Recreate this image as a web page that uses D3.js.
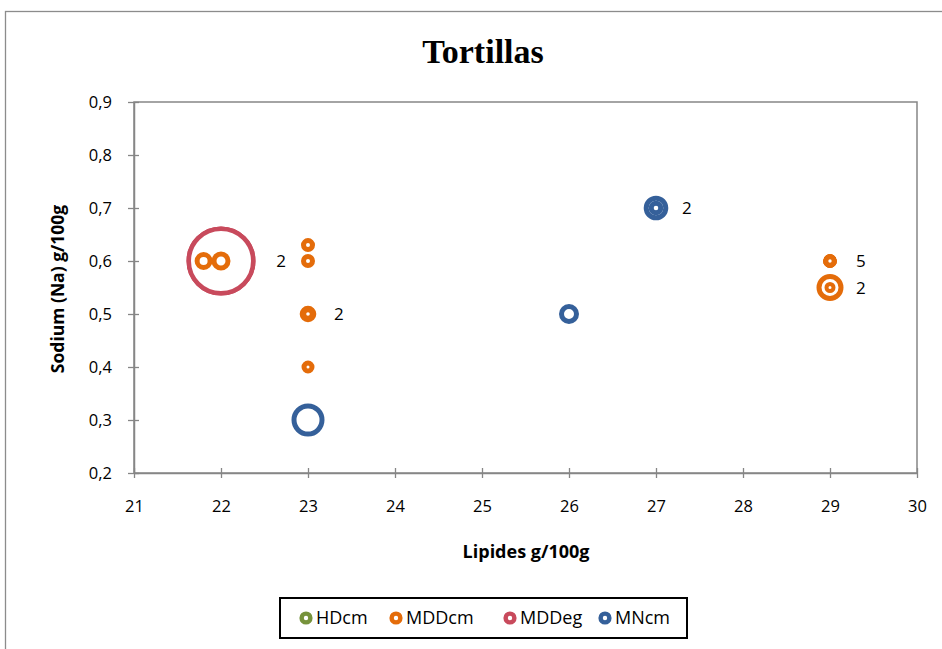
<!DOCTYPE html>
<html>
<head>
<meta charset="utf-8">
<script src="https://cdn.jsdelivr.net/npm/d3@7"></script>
<style>
  html, body { margin: 0; padding: 0; background: #fff; }
  svg { display: block; }
</style>
</head>
<body>
<svg id="chart" width="942" height="649"></svg>
<script>
// Tortillas: sodium vs. lipids, one marker per product, coincident products stacked.
const seriesNames = ["HDcm", "MDDcm", "MDDeg", "MNcm"];
const seriesColors = ["#77933C", "#E46C0A", "#C84A5C", "#35609A"];

// Lipides g/100g
const hdcmX = [];
const mddcmX = [21.8, 22, 23, 23, 23, 23, 23, 29, 29, 29, 29, 29, 29, 29];
const mddegX = [22, 22];
const mncmX = [23, 26, 27, 27];

// Sodium (Na) g/100g
const hdcmY = [];
const mddcmY = [0.6, 0.6, 0.63, 0.6, 0.5, 0.5, 0.4, 0.6, 0.6, 0.6, 0.6, 0.6, 0.55, 0.55];
const mddegY = [0.6, 0.6];
const mncmY = [0.3, 0.5, 0.7, 0.7];

// marker size
const hdcmS = [];
const mddcmS = [9, 9.5, 7, 7, 8.3, 6.8, 6.5, 6.7, 6.7, 6.7, 6.7, 6.7, 13.5, 5.5];
const mddegS = [34.5, 34.5];
const mncmS = [16.5, 10, 12.3, 7.3];

const xTicks = [21, 22, 23, 24, 25, 26, 27, 28, 29, 30];
const yTicks = [0.2, 0.3, 0.4, 0.5, 0.6, 0.7, 0.8, 0.9];

const titleText = "Tortillas";
const xTitle = "Lipides g/100g";
const yTitle = "Sodium (Na) g/100g";

const seriesX = [hdcmX, mddcmX, mddegX, mncmX];
const seriesY = [hdcmY, mddcmY, mddegY, mncmY];
const seriesS = [hdcmS, mddcmS, mddegS, mncmS];

const svg = d3.select("#chart");
const W = 942, H = 649;
const plot = { left: 134, right: 917, top: 102, bottom: 473 };
const font = "'Open Sans', 'Noto Sans', sans-serif";
const axisGray = "#868686";

// chart frame
svg.append("rect")
  .attr("x", 5.5).attr("y", 11.5)
  .attr("width", W + 10).attr("height", H + 10)
  .attr("fill", "#fff").attr("stroke", "#8c8c8c").attr("stroke-width", 1.3);

const x = d3.scaleLinear().domain([21, 30]).range([plot.left, plot.right]);
const y = d3.scaleLinear().domain([0.2, 0.9]).range([plot.bottom, plot.top]);
const r = d3.scaleLinear().domain([0, 10]).range([0, 10]);

const fmt = v => d3.format(".1f")(v).replace(".", ",");

// plot area border
svg.append("rect")
  .attr("x", plot.left).attr("y", plot.top)
  .attr("width", plot.right - plot.left).attr("height", plot.bottom - plot.top)
  .attr("fill", "none").attr("stroke", axisGray).attr("stroke-width", 1.5);

// axes with ticks crossing the axis lines
const xAxis = svg.append("g")
  .attr("transform", `translate(0,${plot.bottom})`)
  .call(d3.axisBottom(x).tickValues(xTicks).tickSize(0).tickPadding(27).tickFormat(d3.format("d")));
xAxis.selectAll(".tick").append("line")
  .attr("y1", -5).attr("y2", 5).attr("stroke", axisGray).attr("stroke-width", 1.3);

const yAxis = svg.append("g")
  .attr("transform", `translate(${plot.left},0)`)
  .call(d3.axisLeft(y).tickValues(yTicks).tickSize(0).tickPadding(22).tickFormat(fmt));
yAxis.selectAll(".tick").append("line")
  .attr("x1", -6).attr("x2", 5).attr("stroke", axisGray).attr("stroke-width", 1.3);

[xAxis, yAxis].forEach(g => {
  g.attr("font-size", null).attr("font-family", null);
  g.select(".domain").attr("stroke", axisGray).attr("stroke-width", 1.5);
  g.selectAll(".tick text")
    .style("font-family", font).style("font-size", "16.5px").attr("fill", "#000");
});

// title and axis titles
svg.append("text")
  .attr("x", 483).attr("y", 63)
  .attr("text-anchor", "middle")
  .attr("font-family", "'Liberation Serif', 'DejaVu Serif', serif")
  .attr("font-weight", "bold").attr("font-size", 34)
  .text(titleText);

svg.append("text")
  .attr("x", 526).attr("y", 558)
  .attr("text-anchor", "middle")
  .attr("font-family", font).attr("font-weight", "bold").attr("font-size", 18)
  .text(xTitle);

svg.append("text")
  .attr("transform", "translate(64,289) rotate(-90)")
  .attr("text-anchor", "middle")
  .attr("font-family", font).attr("font-weight", "bold").attr("font-size", 17.5)
  .text(yTitle);

// markers: white-filled rings, larger ones drawn first so smaller stay visible
const strokeOf = d => d.size > 30 ? 4.5 : (d.size < 6 ? 4 : 5);
const points = [];
seriesX.forEach((xs, si) => {
  xs.forEach((xv, i) => {
    points.push({ s: si, x: xv, y: seriesY[si][i], size: seriesS[si][i] });
  });
});
const drawOrder = points.slice().sort((a, b) => b.size - a.size);

svg.append("g").selectAll("circle")
  .data(drawOrder)
  .join("circle")
  .attr("cx", d => x(d.x))
  .attr("cy", d => y(d.y))
  .attr("r", d => Math.max(0.5, r(d.size) - strokeOf(d) / 2))
  .attr("fill", "#fff")
  .attr("stroke", d => seriesColors[d.s])
  .attr("stroke-width", strokeOf);

// count labels for coincident products of a series
const groups = d3.rollups(points, v => ({
  n: v.length, x: v[0].x, y: v[0].y, size: d3.max(v, p => p.size)
}), p => `${p.s}|${p.x}|${p.y}`).map(g => g[1]).filter(g => g.n > 1);

svg.append("g").selectAll("text")
  .data(groups)
  .join("text")
  .attr("x", d => x(d.x) + Math.max(26, r(d.size) * 1.6))
  .attr("y", d => y(d.y))
  .attr("dy", "0.36em")
  .attr("font-family", font).attr("font-size", 17).attr("fill", "#000")
  .text(d => d.n);

// legend
const legend = svg.append("g");
legend.append("rect")
  .attr("x", 280).attr("y", 598).attr("width", 407).attr("height", 40)
  .attr("fill", "#fff").attr("stroke", "#000").attr("stroke-width", 2);
const legendX = [306, 396, 510, 605];
seriesNames.forEach((name, i) => {
  legend.append("circle")
    .attr("cx", legendX[i]).attr("cy", 618).attr("r", 4.4)
    .attr("fill", "#fff").attr("stroke", seriesColors[i]).attr("stroke-width", 4.4);
  legend.append("text")
    .attr("x", legendX[i] + 10).attr("y", 618).attr("dy", "0.36em")
    .attr("font-family", font).attr("font-size", 18).attr("fill", "#000")
    .text(name);
});
</script>
</body>
</html>
